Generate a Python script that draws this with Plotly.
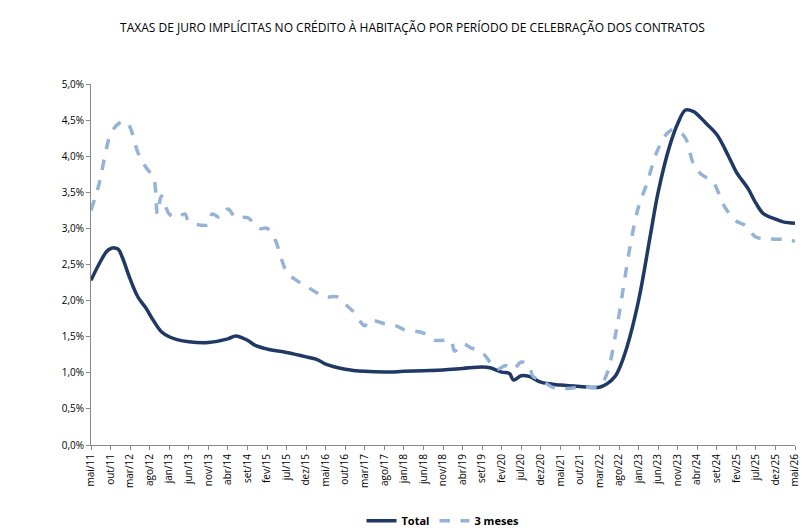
import plotly.graph_objs as go

meses = ["jan", "fev", "mar", "abr", "mai", "jun", "jul", "ago", "set", "out", "nov", "dez"]


def idx(label):
    m, a = label.split("/")
    return (int(a) - 11) * 12 + meses.index(m) - 4


total_datas = ["mai/11", "jul/11", "set/11", "out/11", "nov/11", "dez/11", "jan/12", "mar/12", "mai/12",
               "jul/12", "set/12", "nov/12", "jan/13", "mar/13", "jun/13", "nov/13", "abr/14", "jun/14",
               "set/14", "nov/14", "fev/15", "jul/15", "dez/15", "mar/16", "mai/16", "out/16", "mar/17",
               "ago/17", "jan/18", "jun/18", "nov/18", "abr/19", "set/19", "nov/19", "fev/20", "abr/20",
               "mai/20", "jul/20", "set/20", "dez/20", "mai/21", "out/21", "mar/22", "mai/22", "jul/22",
               "ago/22", "out/22", "jan/23", "abr/23", "jun/23", "set/23", "nov/23", "jan/24", "mar/24",
               "abr/24", "jun/24", "set/24", "dez/24", "fev/25", "mai/25", "jul/25", "set/25", "dez/25",
               "fev/26", "mai/26"]
total_valores = [2.28, 2.5, 2.68, 2.72, 2.73, 2.71, 2.6, 2.3, 2.05, 1.9, 1.72, 1.57, 1.5, 1.46, 1.43,
                 1.42, 1.47, 1.51, 1.45, 1.38, 1.33, 1.28, 1.22, 1.18, 1.12, 1.05, 1.02, 1.01, 1.02, 1.03,
                 1.04, 1.06, 1.08, 1.07, 1.01, 0.99, 0.9, 0.96, 0.95, 0.87, 0.83, 0.81, 0.80, 0.85, 0.95,
                 1.05, 1.35, 2.0, 2.9, 3.5, 4.15, 4.45, 4.64, 4.62, 4.58, 4.47, 4.3, 4.0, 3.78, 3.55, 3.35,
                 3.2, 3.13, 3.09, 3.07]

tres_datas = ["mai/11", "jul/11", "out/11", "dez/11", "fev/12", "mar/12", "mai/12", "jul/12", "set/12",
              "out/12", "nov/12", "jan/13", "mar/13", "mai/13", "jun/13", "nov/13", "dez/13", "fev/14",
              "abr/14", "jun/14", "set/14", "dez/14", "fev/15", "abr/15", "jul/15", "set/15", "dez/15",
              "mar/16", "mai/16", "ago/16", "out/16", "dez/16", "fev/17", "mar/17", "abr/17", "ago/17",
              "nov/17", "jan/18", "jun/18", "set/18", "nov/18", "jan/19", "fev/19", "abr/19", "jun/19",
              "set/19", "nov/19", "jan/20", "mar/20", "mai/20", "jul/20", "set/20", "out/20", "dez/20",
              "mar/21", "mai/21", "out/21", "mar/22", "mai/22", "jul/22", "ago/22", "nov/22", "jan/23",
              "mar/23", "jun/23", "set/23", "nov/23", "jan/24", "mar/24", "mai/24", "ago/24", "set/24",
              "nov/24", "fev/25", "abr/25", "jul/25", "set/25", "dez/25", "mar/26", "mai/26"]
tres_valores = [3.25, 3.6, 4.3, 4.45, 4.48, 4.4, 4.05, 3.85, 3.7, 3.2, 3.45, 3.2, 3.15, 3.2, 3.1, 3.05,
                3.2, 3.15, 3.27, 3.15, 3.15, 3.0, 3.0, 2.85, 2.4, 2.3, 2.2, 2.1, 2.05, 2.05, 1.95, 1.85,
                1.7, 1.65, 1.73, 1.68, 1.65, 1.6, 1.55, 1.45, 1.45, 1.45, 1.3, 1.4, 1.35, 1.28, 1.15, 1.05,
                1.1, 1.05, 1.15, 1.1, 0.95, 0.9, 0.8, 0.78, 0.8, 0.82, 1.0, 1.5, 1.8, 2.8, 3.3, 3.6, 4.1,
                4.35, 4.35, 4.25, 3.9, 3.75, 3.65, 3.55, 3.3, 3.1, 3.05, 2.88, 2.86, 2.85, 2.85, 2.82]

tick_labels = []
for i in range(0, 181, 5):
    a = 11 + (i + 4) // 12
    tick_labels.append("%s/%02d" % (meses[(i + 4) % 12], a))

fig = go.Figure()
fig.add_trace(go.Scatter(x=[idx(d) for d in total_datas], y=total_valores, name="<b>Total</b>",
                         mode="lines", line=dict(color="#1f3864", width=3.5, shape="spline")))
fig.add_trace(go.Scatter(x=[idx(d) for d in tres_datas], y=tres_valores, name="<b>3 meses</b>",
                         mode="lines", line=dict(color="#95b3d7", width=3.5, dash="dash", shape="spline")))

fig.update_layout(
    width=809, height=528, plot_bgcolor="white", paper_bgcolor="white",
    font=dict(family="Open Sans, DejaVu Sans", size=11, color="black"),
    title=dict(text="TAXAS DE JURO IMPLÍCITAS NO CRÉDITO À HABITAÇÃO POR PERÍODO DE CELEBRAÇÃO DOS CONTRATOS",
               x=0.5, y=0.962, xanchor="center", yanchor="middle", font=dict(size=12)),
    margin=dict(l=83, r=22, t=76, b=91, autoexpand=False),
    xaxis=dict(range=[0, 180], tickvals=list(range(0, 181, 5)), ticktext=tick_labels, tickangle=-90,
               showgrid=False, showline=True, linecolor="#888", ticks="outside", ticklen=4,
               tickcolor="#888", tickfont=dict(size=10)),
    yaxis=dict(range=[0, 5], dtick=0.5, tickformat=".1f", ticksuffix="%",
               showgrid=False, showline=True, linecolor="#888", ticks="outside", ticklen=4,
               tickcolor="#888", tickfont=dict(size=10)),
    separators=",.",
    legend=dict(orientation="h", x=0.5, xanchor="center", y=-0.21, yanchor="middle",
                font=dict(size=11)),
)

fig.write_html("out.html")
